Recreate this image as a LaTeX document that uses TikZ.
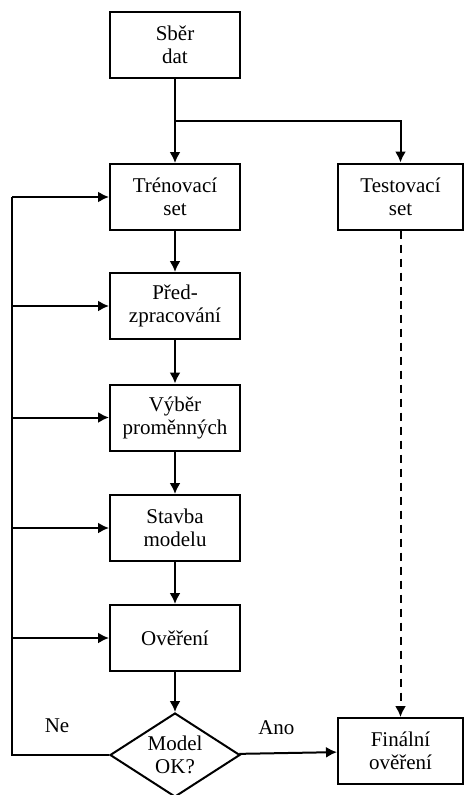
\documentclass[tikz,border=0pt]{standalone}
\usepackage{fontspec}
\setmainfont{Liberation Serif}
\usetikzlibrary{shapes.geometric,arrows.meta}

\tikzset{
	krok/.style={draw, line width=2pt, minimum width=130pt, minimum height=66pt,
		align=center, inner sep=0pt, font=\fontsize{21}{23}\selectfont},
	rozhod/.style={draw, diamond, line width=2pt, aspect=1.55, inner sep=0pt,
		minimum width=130pt, minimum height=84pt, align=center,
		font=\fontsize{21}{23}\selectfont},
	sipka/.style={line width=2pt, -{Latex[length=11pt,width=11pt]}},
	cara/.style={line width=2pt}
}

\begin{document}
\begin{tikzpicture}[x=1pt, y=-1pt]
				\useasboundingbox (0,0) rectangle (464,795);

				% Hlavni vetev
				\node[krok] (sber) at (175,45) {Sběr\\dat};
				\node[krok] (tren) at (175,197) {Trénovací\\set};
				\node[krok] (pred) at (175,306) {Před-\\zpracování};
				\node[krok] (vyber) at (175,417.5) {Výběr\\proměnných};
				\node[krok] (stavba) at (175,528) {Stavba\\modelu};
				\node[krok] (over) at (175,638) {Ověření};
				\node[rozhod] (model) at (175,755) {Model\\OK?};

				% Prava vetev
				\node[krok, minimum width=125pt] (test) at (400.5,196.5) {Testovací\\set};
				\node[krok, minimum width=125pt] (final) at (400.5,751) {Finální\\ověření};

				% Rozdeleni dat
				\coordinate (rozdel) at (175,121);
				\draw[sipka] (sber) -- (tren);
				\draw[sipka] (rozdel) -| (test);
				\draw[sipka] (tren) -- (pred);
				\draw[sipka] (pred) -- (vyber);
				\draw[sipka] (vyber) -- (stavba);
				\draw[sipka] (stavba) -- (over);
				\draw[sipka] (over) -- (model);
				\draw[sipka] (model) -- (final) node[pos=0.38, above=14pt, font=\fontsize{21}{23}\selectfont] (ano) {Ano};
				\draw[sipka, dash pattern=on 8pt off 6pt] (test) -- (final);

				% Zpetna vazba
				\coordinate (dole) at (12,755);
				\coordinate (nahore) at (12,197);
				\draw[cara] (model.west) -- (dole) -- (nahore);
				\draw[sipka] (nahore) -- (tren.west);
				\draw[sipka] (nahore |- pred.west) -- (pred.west);
				\draw[sipka] (nahore |- vyber.west) -- (vyber.west);
				\draw[sipka] (nahore |- stavba.west) -- (stavba.west);
				\draw[sipka] (nahore |- over.west) -- (over.west);
				\node[font=\fontsize{21}{23}\selectfont] (ne) at (57,726) {Ne};
\end{tikzpicture}
\end{document}
